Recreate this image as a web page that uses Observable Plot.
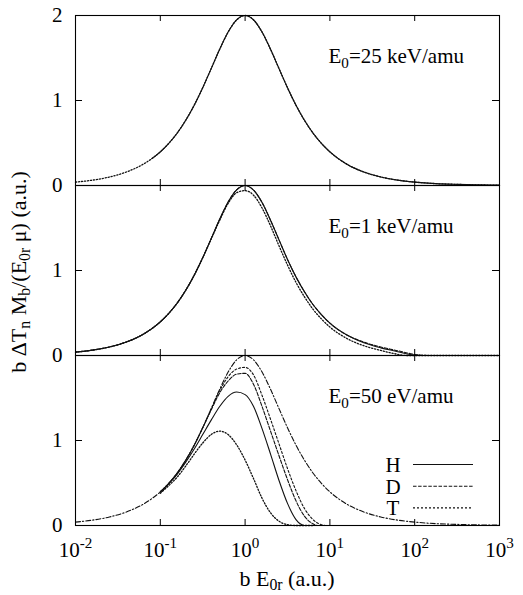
<!DOCTYPE html>
<html>
<head>
<meta charset="utf-8">
<script src="https://cdn.jsdelivr.net/npm/d3@7"></script>
<script src="https://cdn.jsdelivr.net/npm/@observablehq/plot@0.6"></script>
<style>
  body { margin: 0; background: #fff; }
  #wrap { position: relative; width: 523px; height: 595px; font-family: "Liberation Serif", "Times New Roman", Times, "DejaVu Serif", serif; color: #000; }
  #wrap sub { font-size: 72%; line-height: 0; vertical-align: -0.28em; }
  .ylab { position: absolute; left: -131px; top: 260px; width: 300px; height: 24px; line-height: 24px;
          text-align: center; font-size: 22px; transform: rotate(-90deg); white-space: nowrap; }
  .xlab { position: absolute; left: 187px; top: 567px; width: 200px; line-height: 24px;
          text-align: center; font-size: 22px; white-space: nowrap; }
  #legend { position: absolute; left: 370px; top: 445px; }
</style>
</head>
<body>
<div id="wrap"></div>
<script>
const SERIF = "'Liberation Serif', 'Times New Roman', Times, 'DejaVu Serif', serif";
// ---- categories / labels ----
const PANELS = ["top", "mid", "bot"];
const PANEL_LABELS = ["E_{0}=25 keV/amu", "E_{0}=1 keV/amu", "E_{0}=50 eV/amu"];
const X_TICKS = [1e-2, 1e-1, 1e0, 1e1, 1e2, 1e3];
const Y_TICKS_TOP = [0, 1, 2];
const Y_TICKS_MID = [0, 1];
const Y_TICKS_BOT = [0, 1];
const LEGEND = ["H", "D", "T"];

// ---- series: log10(b E0r) and b dT Mb/(E0r mu) ----
// top panel (E0 = 25 keV/amu)
const TOP_DOT_T = [-2,-1.8,-1.6,-1.4,-1.2,-1,-0.9,-0.8,-0.7,-0.6,-0.5,-0.4,-0.3,-0.2,-0.1,0,0.1,0.2,0.3,0.4,0.5,0.6,0.7,0.8,0.9,1,1.2,1.4,1.6,1.8,2,2.25,2.5,2.75,3];
const TOP_DOT_Y = [0.040,0.063,0.100,0.159,0.251,0.396,0.496,0.618,0.768,0.945,1.150,1.375,1.602,1.805,1.948,2.000,1.948,1.805,1.602,1.375,1.150,0.945,0.768,0.618,0.496,0.396,0.251,0.159,0.100,0.063,0.040,0.022,0.013,0.007,0.004];
const TOP_SOLID_T = [-1.1,-1,-0.9,-0.8,-0.7,-0.6,-0.5,-0.4,-0.3,-0.2,-0.1,0,0.1,0.2,0.3,0.4,0.5,0.6,0.7,0.8,0.9,1,1.2,1.4,1.6,1.8,2,2.25,2.5,2.75,3];
const TOP_SOLID_Y = [0.316,0.396,0.496,0.618,0.768,0.945,1.150,1.375,1.602,1.805,1.948,2.000,1.948,1.805,1.602,1.375,1.150,0.945,0.768,0.618,0.496,0.396,0.251,0.159,0.100,0.063,0.040,0.022,0.013,0.007,0.004];

// middle panel (E0 = 1 keV/amu)
const MID_SOLID_T = [-2,-1.8,-1.6,-1.4,-1.2,-1,-0.9,-0.8,-0.7,-0.6,-0.5,-0.4,-0.3,-0.2,-0.1,0,0.1,0.2,0.3,0.4,0.5,0.6,0.7,0.8,0.9,1,1.2,1.4,1.6,1.8,1.9,2,2.1,3];
const MID_SOLID_Y = [0.040,0.063,0.100,0.159,0.251,0.396,0.496,0.618,0.768,0.945,1.150,1.375,1.602,1.805,1.948,2.000,1.945,1.800,1.590,1.360,1.130,0.925,0.750,0.600,0.480,0.380,0.240,0.150,0.090,0.045,0.020,0.004,0,0];
const MID_DASH_T = [-2,-1.8,-1.6,-1.4,-1.2,-1,-0.9,-0.8,-0.7,-0.6,-0.5,-0.4,-0.3,-0.2,-0.1,0,0.1,0.2,0.3,0.4,0.5,0.6,0.7,0.8,0.9,1,1.2,1.4,1.6,1.8,1.9,2,2.1,2.2,3];
const MID_DASH_Y = [0.040,0.063,0.100,0.159,0.251,0.396,0.496,0.618,0.768,0.945,1.150,1.375,1.602,1.805,1.948,2.000,1.945,1.800,1.590,1.360,1.130,0.925,0.750,0.600,0.480,0.380,0.242,0.158,0.100,0.056,0.032,0.012,0.002,0,0];
const MID_DOT_T = [-2,-1.8,-1.6,-1.4,-1.2,-1,-0.9,-0.8,-0.7,-0.6,-0.5,-0.4,-0.3,-0.2,-0.1,0,0.1,0.2,0.3,0.4,0.5,0.6,0.7,0.8,0.9,1,1.2,1.4,1.6,1.7,1.8,1.9,3];
const MID_DOT_Y = [0.040,0.063,0.100,0.159,0.251,0.396,0.496,0.618,0.768,0.945,1.150,1.370,1.590,1.790,1.915,1.940,1.885,1.735,1.525,1.290,1.065,0.860,0.690,0.545,0.430,0.335,0.200,0.115,0.060,0.035,0.014,0,0];

// bottom panel (E0 = 50 eV/amu)
const BOT_DASHDOT_T = [-2,-1.8,-1.6,-1.4,-1.2,-1,-0.9,-0.8,-0.7,-0.6,-0.5,-0.4,-0.3,-0.2,-0.1,0,0.1,0.2,0.3,0.4,0.5,0.6,0.7,0.8,0.9,1,1.2,1.4,1.6,1.8,2,2.25,2.5,2.75,3];
const BOT_DASHDOT_Y = [0.040,0.063,0.100,0.159,0.251,0.396,0.496,0.618,0.768,0.945,1.150,1.375,1.602,1.805,1.948,2.000,1.948,1.805,1.602,1.375,1.150,0.945,0.768,0.618,0.496,0.396,0.251,0.159,0.100,0.063,0.040,0.022,0.013,0.007,0.004];
const BOT_H_T = [-1,-0.9,-0.8,-0.7,-0.6,-0.5,-0.4,-0.3,-0.2,-0.1,0,0.1,0.2,0.3,0.4,0.5,0.6,0.65,0.7,1];
const BOT_H_Y = [0.396,0.490,0.605,0.745,0.900,1.070,1.240,1.400,1.520,1.570,1.540,1.400,1.140,0.840,0.530,0.260,0.070,0.020,0,0];
const BOT_D_T = [-1,-0.9,-0.8,-0.7,-0.6,-0.5,-0.4,-0.3,-0.2,-0.1,0,0.1,0.2,0.3,0.4,0.5,0.6,0.7,0.8,0.85,1];
const BOT_D_Y = [0.396,0.496,0.618,0.768,0.945,1.150,1.360,1.560,1.700,1.780,1.790,1.660,1.400,1.110,0.820,0.540,0.290,0.110,0.020,0,0];
const BOT_T_T = [-1,-0.9,-0.8,-0.7,-0.6,-0.5,-0.4,-0.3,-0.2,-0.1,0,0.1,0.2,0.3,0.4,0.5,0.6,0.7,0.8,0.9,0.95,1.1];
const BOT_T_Y = [0.396,0.496,0.618,0.768,0.945,1.150,1.370,1.585,1.750,1.840,1.860,1.770,1.530,1.250,0.960,0.670,0.410,0.200,0.070,0.010,0,0];
const BOT_DOT_T = [-1,-0.9,-0.8,-0.7,-0.6,-0.5,-0.4,-0.3,-0.2,-0.1,0,0.1,0.2,0.3,0.4,0.5,0.6,0.8];
const BOT_DOT_Y = [0.380,0.470,0.570,0.700,0.840,0.970,1.070,1.110,1.070,0.950,0.770,0.550,0.320,0.150,0.050,0.010,0,0];

// ---- build tables ----
function series(panel, style, ts, ys) {
  return ts.map((t, i) => ({panel, style, key: panel + "-" + style, x: Math.pow(10, t), y: ys[i]}));
}
const rows = [
  ...series("top", "dot", TOP_DOT_T, TOP_DOT_Y),
  ...series("top", "solid", TOP_SOLID_T, TOP_SOLID_Y),
  ...series("mid", "solid", MID_SOLID_T, MID_SOLID_Y),
  ...series("mid", "dash", MID_DASH_T, MID_DASH_Y),
  ...series("mid", "dot", MID_DOT_T, MID_DOT_Y),
  ...series("bot", "dashdot", BOT_DASHDOT_T, BOT_DASHDOT_Y),
  ...series("bot", "solid", BOT_H_T, BOT_H_Y),
  ...series("bot", "dash", BOT_D_T, BOT_D_Y),
  ...series("bot", "tdash", BOT_T_T, BOT_T_Y),
  ...series("bot", "dot", BOT_DOT_T, BOT_DOT_Y)
];
const STYLES = {
  dot: {dash: "1.2,1.8", w: 1.3},
  dashdot: {dash: "5,2,1.3,2", w: 1.1},
  tdash: {dash: "2,2", w: 1.1},
  dash: {dash: "3.5,1.6", w: 1.1},
  solid: {dash: null, w: 1.1}
};
const yTickRows = [
  ...Y_TICKS_TOP.map(v => ({panel: "top", v})),
  ...Y_TICKS_MID.map(v => ({panel: "mid", v})),
  ...Y_TICKS_BOT.map(v => ({panel: "bot", v}))
];
const labelRows = PANELS.map((p, i) => ({panel: p, label: PANEL_LABELS[i]}));

const lineMarks = Object.entries(STYLES).map(([s, st]) => {
  const opts = {x: "x", y: "y", z: "key", fy: "panel", stroke: "#111", strokeWidth: st.w, curve: "monotone-x"};
  if (st.dash) opts.strokeDasharray = st.dash;
  return Plot.line(rows.filter(r => r.style === s), opts);
});

const chart = Plot.plot({
  width: 523, height: 595,
  marginTop: 15, marginBottom: 70, marginLeft: 75, marginRight: 24,
  style: {fontFamily: SERIF, fontSize: "21px", background: "transparent", overflow: "visible", color: "#000"},
  x: {type: "log", domain: [1e-2, 1e3], ticks: X_TICKS, tickFormat: d => `10^{${Math.round(Math.log10(d))}}`, tickSize: 0, tickPadding: 17, label: null},
  y: {domain: [0, 2], axis: null},
  fy: {domain: PANELS, axis: null, padding: 0},
  marks: [
    ...lineMarks,
    Plot.ruleX(X_TICKS, {x: d => d, insetTop: 164, stroke: "#000"}),
    Plot.ruleX(X_TICKS, {x: d => d, insetBottom: 164, stroke: "#000"}),
    Plot.ruleY([1], {y: d => d, insetRight: 417, stroke: "#000"}),
    Plot.ruleY([1], {y: d => d, insetLeft: 417, stroke: "#000"}),
    Plot.text(yTickRows, {fy: "panel", y: "v", text: d => String(d.v), frameAnchor: "left", textAnchor: "end", dx: -13, fontSize: 21, fontFamily: SERIF}),
    Plot.text(labelRows, {fy: "panel", text: "label", frameAnchor: "top-left", lineAnchor: "middle", textAnchor: "start", dx: 253, dy: 41, fontSize: 21, fontFamily: SERIF}),
    Plot.frame({stroke: "#000", strokeWidth: 1.1})
  ]
});

// rich text: _{..} subscripts and ^{..} superscripts
function richify(root) {
  const NS = "http://www.w3.org/2000/svg";
  root.querySelectorAll("text").forEach(el => {
    const s = el.textContent;
    if (!/[_^]\{/.test(s)) return;
    while (el.firstChild) el.removeChild(el.firstChild);
    const re = /([_^])\{([^}]*)\}/g;
    let last = 0, m, shift = 0;
    const add = (txt, kind) => {
      if (!txt) return;
      const ts = document.createElementNS(NS, "tspan");
      let target = kind === "_" ? 5 : kind === "^" ? -9 : 0;
      if (target !== shift) { ts.setAttribute("dy", target - shift); shift = target; }
      if (kind) ts.setAttribute("font-size", "72%");
      ts.textContent = txt;
      el.appendChild(ts);
    };
    while ((m = re.exec(s))) {
      add(s.slice(last, m.index), null);
      add(m[2], m[1]);
      last = re.lastIndex;
    }
    add(s.slice(last), null);
  });
}
richify(chart);
chart.querySelectorAll("text").forEach(t => t.setAttribute("font-family", SERIF));
chart.querySelectorAll("g").forEach(g => { if (g.getAttribute("font-family")) g.setAttribute("font-family", SERIF); });

const wrap = document.getElementById("wrap");
wrap.appendChild(chart);

// axis titles
const ylab = document.createElement("div");
ylab.className = "ylab";
ylab.innerHTML = "b &Delta;T<sub>n</sub> M<sub>b</sub>/(E<sub>0r</sub> &mu;) (a.u.)";
wrap.appendChild(ylab);
const xlab = document.createElement("div");
xlab.className = "xlab";
xlab.innerHTML = "b E<sub>0r</sub> (a.u.)";
wrap.appendChild(xlab);

// legend
const legendStyle = [STYLES.solid, STYLES.dash, STYLES.tdash];
const lg = d3.select(wrap).append("svg").attr("id", "legend").attr("width", 120).attr("height", 80)
  .style("font-family", SERIF).style("font-size", "21px");
LEGEND.forEach((name, i) => {
  lg.append("text").attr("x", 23).attr("y", 27 + i * 21.7).attr("text-anchor", "middle").text(name);
  const ln = lg.append("line").attr("x1", 43).attr("x2", 103).attr("y1", 19.5 + i * 21.7).attr("y2", 19.5 + i * 21.7)
    .attr("stroke", "#111").attr("stroke-width", legendStyle[i].w);
  if (legendStyle[i].dash) ln.attr("stroke-dasharray", legendStyle[i].dash);
});
</script>
</body>
</html>
